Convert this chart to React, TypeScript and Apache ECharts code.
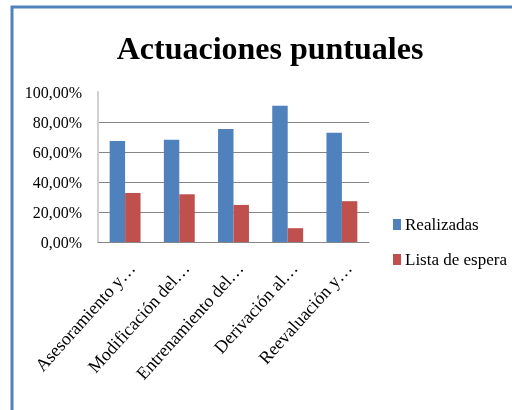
import React, { useEffect, useRef } from "react";
import * as echarts from "echarts";

const categories = [
  "Asesoramiento y…",
  "Modificación del…",
  "Entrenamiento del…",
  "Derivación al…",
  "Reevaluación y…",
];
const realizadas = [67.3, 68.2, 75.3, 90.8, 72.8];
const listaEspera = [32.7, 31.8, 24.7, 9.2, 27.2];
const seriesNames = ["Realizadas", "Lista de espera"];
const seriesColors = ["#4f81bd", "#c0504d"];
const titleText = "Actuaciones puntuales";

const FONT = "Liberation Serif, Tinos, Times New Roman, serif";

export default function App() {
  const ref = useRef<HTMLDivElement>(null);
  useEffect(() => {
    if (!ref.current) return;
    const chart = echarts.init(ref.current, undefined, { renderer: "svg" });
    const legendMarks = seriesNames.map((name, i) => ({
      type: "rect",
      shape: { x: 393, y: 219 + i * 35, width: 8, height: 11 },
      style: { fill: seriesColors[i] },
      silent: true,
    }));
    const legendTexts = seriesNames.map((name, i) => ({
      type: "text",
      x: 405,
      y: 216 + i * 35,
      style: { text: name, fontFamily: "Liberation Serif", fontSize: 17, fill: "#000" },
      silent: true,
    }));
    chart.setOption({
      animation: false,
      title: {
        text: titleText,
        left: 265,
        textAlign: "center",
        top: 27,
        textStyle: {
          fontFamily: FONT,
          fontWeight: "bold",
          fontSize: 32,
          color: "#000",
        },
      },
      graphic: [
        {
          type: "rect",
          shape: { x: 12, y: 7, width: 620, height: 520 },
          style: { fill: "none", stroke: "#4f81bd", lineWidth: 3 },
          silent: true,
        },
        ...legendMarks,
        ...legendTexts,
      ],
      grid: { left: 98, right: 143, top: 92, bottom: 168 },
      xAxis: {
        type: "category",
        data: categories,
        axisLine: { lineStyle: { color: "#868686", width: 1 } },
        axisTick: { show: false },
        axisLabel: {
          rotate: 48,
          margin: 17,
          interval: 0,
          verticalAlign: "top",
          fontFamily: FONT,
          fontSize: 18,
          color: "#000",
        },
      },
      yAxis: {
        type: "value",
        min: 0,
        max: 100,
        interval: 20,
        axisLine: { show: true, lineStyle: { color: "#d0d0d0", width: 2 } },
        axisTick: { show: false },
        splitLine: { show: true, showMaxLine: false, lineStyle: { color: "#868686", width: 1 } },
        axisLabel: {
          margin: 16,
          fontFamily: FONT,
          fontSize: 16,
          color: "#000",
          formatter: (v: number) => v.toFixed(2).replace(".", ",") + "%",
        },
      },
      series: [
        {
          name: seriesNames[0],
          type: "bar",
          data: realizadas,
          itemStyle: { color: seriesColors[0] },
          barGap: "0%",
          barCategoryGap: "43%",
        },
        {
          name: seriesNames[1],
          type: "bar",
          data: listaEspera,
          itemStyle: { color: seriesColors[1] },
          barGap: "0%",
          barCategoryGap: "43%",
        },
      ],
    });
    return () => chart.dispose();
  }, []);
  return (
    <div style={{ position: "fixed", left: 0, top: 0, width: 512, height: 410 }}>
      <div ref={ref} style={{ width: 512, height: 410 }} />
    </div>
  );
}
